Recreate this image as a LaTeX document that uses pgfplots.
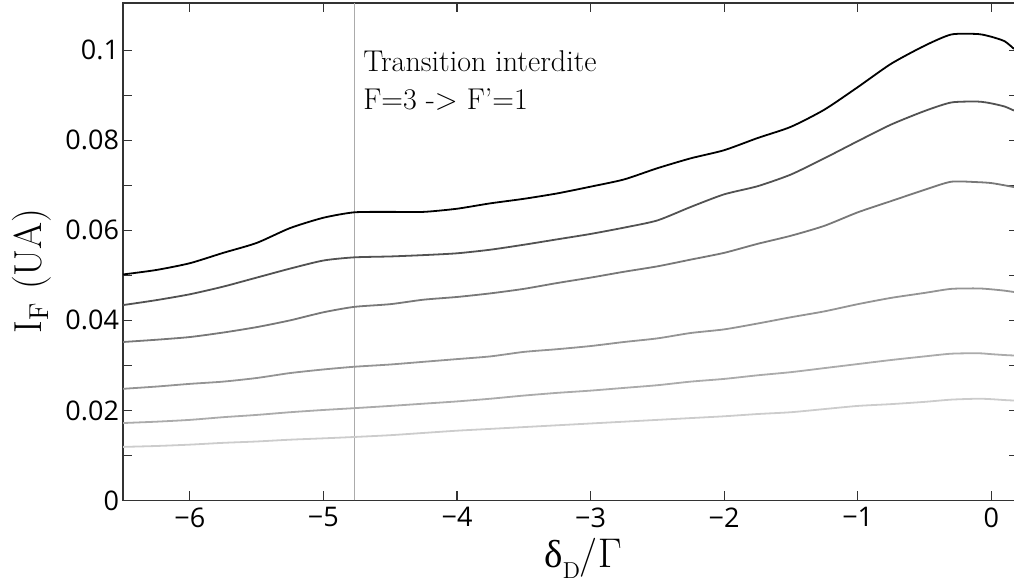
\documentclass[border=0pt]{standalone}
\usepackage{fontspec}
\usepackage{pgfplots}
\usepackage{pgfplotstable}
\pgfplotsset{compat=1.18}
\newfontfamily\ticksans{Open Sans}
\newfontfamily\greekfont{Liberation Serif}

\pgfplotstableread{
x      a       b       c       d       e       f
-6.5   0.0502  0.0434  0.0352  0.0248  0.0172  0.0119
-6.25  0.0512  0.0445  0.0357  0.0253  0.0175  0.0121
-6.0   0.0527  0.0458  0.0363  0.0259  0.0179  0.0124
-5.75  0.0550  0.0475  0.0373  0.0264  0.0185  0.0128
-5.5   0.0572  0.0495  0.0385  0.0272  0.0190  0.0131
-5.25  0.0605  0.0515  0.0400  0.0283  0.0196  0.0135
-5.0   0.0628  0.0533  0.0418  0.0291  0.0201  0.0138
-4.77  0.0640  0.0540  0.0430  0.0297  0.0205  0.0141
-4.5   0.0641  0.0542  0.0436  0.0302  0.0210  0.0145
-4.25  0.0641  0.0545  0.0446  0.0308  0.0215  0.0150
-4.0   0.0648  0.0549  0.0452  0.0314  0.0220  0.0155
-3.75  0.0660  0.0557  0.0460  0.0320  0.0226  0.0159
-3.5   0.0670  0.0568  0.0470  0.0330  0.0233  0.0163
-3.25  0.0682  0.0580  0.0483  0.0336  0.0239  0.0167
-3.0   0.0697  0.0592  0.0495  0.0343  0.0244  0.0171
-2.75  0.0713  0.0606  0.0508  0.0352  0.0250  0.0175
-2.5   0.0738  0.0622  0.0520  0.0360  0.0256  0.0179
-2.25  0.0760  0.0652  0.0535  0.0372  0.0264  0.0183
-2.0   0.0778  0.0680  0.0550  0.0380  0.0270  0.0187
-1.75  0.0805  0.0698  0.0570  0.0393  0.0278  0.0192
-1.5   0.0830  0.0724  0.0588  0.0407  0.0285  0.0196
-1.25  0.0868  0.0760  0.0610  0.0420  0.0294  0.0203
-1.0   0.0918  0.0798  0.0640  0.0436  0.0303  0.0210
-0.75  0.0970  0.0835  0.0665  0.0450  0.0312  0.0214
-0.5   0.1010  0.0865  0.0690  0.0461  0.0320  0.0219
-0.3   0.1035  0.0884  0.0708  0.0470  0.0326  0.0224
-0.1   0.1036  0.0886  0.0707  0.0471  0.0327  0.0226
0.0    0.1030  0.0882  0.0705  0.0469  0.0325  0.0225
0.1    0.1020  0.0875  0.0700  0.0466  0.0323  0.0223
0.17   0.1003  0.0866  0.0696  0.0463  0.0322  0.0222
}\data

\begin{document}
\begin{tikzpicture}
\begin{axis}[
  name=ax,
  scale only axis,
  width=447.225pt, height=248.6pt,
  xmin=-6.5, xmax=0.2, ymin=0, ymax=0.1105,
  axis line style={draw=black!80, line width=0.6pt},
  tick style={black!80, line width=0.6pt},
  major tick length=4.5pt, minor tick length=4.5pt,
  xtick={-6,-5,-4,-3,-2,-1,0},
  xticklabels={−6,−5,−4,−3,−2,−1,0},
  ytick={0,0.02,0.04,0.06,0.08,0.1},
  yticklabels={0,0.02,0.04,0.06,0.08,0.1},
  minor ytick={0.01,0.03,0.05,0.07,0.09},
  scaled y ticks=false,
  tick label style={font=\ticksans\fontsize{13.5}{15}\selectfont},
  yticklabel style={xshift=1.5pt},
  xlabel={{\greekfont δ}\raisebox{-5.5pt}{\fontsize{11.5}{12}\selectfont D}/$\Gamma$},
  ylabel={$\mathrm{I}_{\mathrm{F}}$ (UA)},
  label style={font=\fontsize{19.5}{22}\selectfont},
  xlabel style={at={(axis description cs:0.514,0)}, anchor=center, yshift=-29pt},
  ylabel style={at={(axis description cs:-0.1017,0.462)}, anchor=center},
  clip=false,
]
\addplot[black!33, line width=0.5pt] coordinates {(-4.77,0) (-4.77,0.1105)};
\addplot[black!20, line width=0.9pt, smooth, tension=0.4] table[x=x,y=f] {\data};
\addplot[black!33, line width=0.9pt, smooth, tension=0.4] table[x=x,y=e] {\data};
\addplot[black!42, line width=0.9pt, smooth, tension=0.4] table[x=x,y=d] {\data};
\addplot[black!53, line width=0.9pt, smooth, tension=0.4] table[x=x,y=c] {\data};
\addplot[black!68, line width=0.9pt, smooth, tension=0.4] table[x=x,y=b] {\data};
\addplot[black, line width=0.9pt, smooth, tension=0.4] table[x=x,y=a] {\data};
\node[anchor=base west, inner sep=0pt, font=\fontsize{15}{18}\selectfont] at (axis cs:-4.704,0.0953) {Transition interdite};
\node[anchor=base west, inner sep=0pt, font=\fontsize{15}{18}\selectfont] at (axis cs:-4.704,0.0869) {F=3 -> F'=1};
\end{axis}
\pgfresetboundingbox
\path ([shift={(-61.5pt,-43.5pt)}]ax.south west) rectangle ([shift={(-2pt,1.5pt)}]ax.north east);
\end{tikzpicture}
\end{document}
